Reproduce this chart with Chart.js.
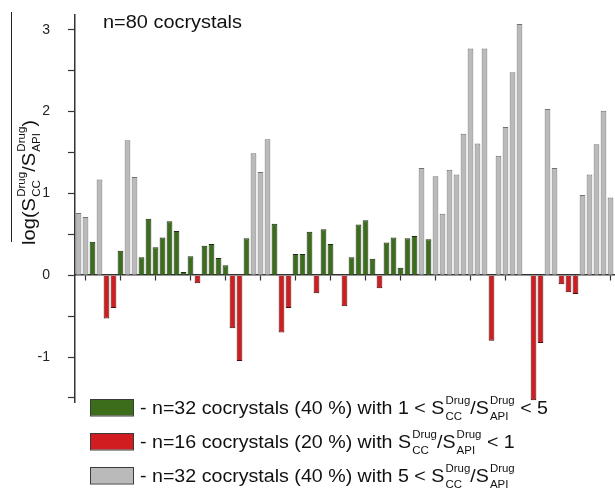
<!DOCTYPE html>
<html>
<head>
<meta charset="utf-8">
<script src="https://cdn.jsdelivr.net/npm/chart.js@4"></script>
<style>
  body { margin: 0; background: #fff; }
  canvas { display: block; background: #fff; }
</style>
</head>
<body>
<canvas id="ratioChart" width="615" height="489"></canvas>
<script>
// log(S_CC/S_API) per cocrystal, in plot order (null = empty slot)
const cocrystals = Array.from({ length: 77 }, (_, i) => String(i + 1));
const logRatio = [
  0.76, 0.71, 0.41, 1.17, -0.53, -0.40, 0.30, 1.65, 1.20, 0.22,
  0.69, 0.34, 0.46, 0.66, 0.54, 0.04, 0.23, -0.10, 0.36, 0.38,
  0.21, 0.12, -0.65, -1.05, 0.45, 1.49, 1.26, 1.66, 0.63, -0.70,
  -0.40, 0.26, 0.26, 0.53, -0.22, 0.56, 0.38, null, -0.38, 0.22,
  0.62, 0.67, 0.20, -0.16, 0.40, 0.46, 0.09, 0.45, 0.48, 1.31,
  0.44, 1.21, 0.75, 1.29, 1.23, 1.73, 2.77, 1.61, 2.77, -0.80,
  1.46, 1.81, 2.48, 3.07, null, -1.53, -0.83, 2.03, 1.31, -0.11,
  -0.21, -0.23, 0.98, 1.23, 1.60, 2.01, 0.95
];
// g = 1 < ratio < 5, r = ratio < 1, a = ratio > 5
const ratioClass = [
  'a','a','g','a','r','r','g','a','a','g',
  'g','g','g','g','g','g','g','r','g','g',
  'g','g','r','r','g','a','a','a','g','r',
  'r','g','g','g','r','g','g','-','r','g',
  'g','g','g','r','g','g','g','g','g','a',
  'g','a','a','a','a','a','a','a','a','r',
  'a','a','a','a','-','r','r','a','a','r',
  'r','r','a','a','a','a','a'
];
const yTicks = [-1, 0, 1, 2, 3];

const classes = ['g', 'r', 'a'];
const fillColors = { g: '#3c6d1b', r: '#d11c20', a: '#bababa' };
const edgeColors = { g: '#1c2e10', r: '#4a0d0d', a: '#737373' };

const legendRows = [
  ['- n=32 cocrystals (40 %) with 1 < S', { sup: 'Drug', sub: 'CC' }, '/S', { sup: 'Drug', sub: 'API' }, ' < 5'],
  ['- n=16 cocrystals (20 %) with S', { sup: 'Drug', sub: 'CC' }, '/S', { sup: 'Drug', sub: 'API' }, ' < 1'],
  ['- n=32 cocrystals (40 %) with 5 < S', { sup: 'Drug', sub: 'CC' }, '/S', { sup: 'Drug', sub: 'API' }]
];
const yTitle = ['log(S', { sup: 'Drug', sub: 'CC' }, '/S', { sup: 'Drug', sub: 'API' }, ')'];

const FONT = 'Liberation Sans, Arial, sans-serif';

function richWidth(ctx, parts, size, small) {
  let w = 0;
  parts.forEach(p => {
    if (typeof p === 'string') {
      ctx.font = size + 'px ' + FONT;
      w += ctx.measureText(p).width;
    } else {
      ctx.font = small + 'px ' + FONT;
      w += Math.max(ctx.measureText(p.sup).width, ctx.measureText(p.sub).width) + 1;
    }
  });
  return w;
}

function drawRich(ctx, parts, size, small, sx, supDy, subDy) {
  let x = 0;
  ctx.save();
  ctx.scale(sx, 1);
  parts.forEach(p => {
    if (typeof p === 'string') {
      ctx.font = size + 'px ' + FONT;
      ctx.fillText(p, x, 0);
      x += ctx.measureText(p).width;
    } else {
      ctx.font = small + 'px ' + FONT;
      ctx.fillText(p.sup, x + 1, supDy);
      ctx.fillText(p.sub, x + 1, subDy);
      x += Math.max(ctx.measureText(p.sup).width, ctx.measureText(p.sub).width) + 1;
    }
  });
  ctx.restore();
}

const textPlugin = {
  id: 'textPlugin',
  afterDraw(chart) {
    const ctx = chart.ctx;
    ctx.save();
    ctx.fillStyle = '#111';
    ctx.textBaseline = 'alphabetic';
    ctx.textAlign = 'left';

    // sample size note
    ctx.font = '18px ' + FONT;
    const nw = ctx.measureText('n=80 cocrystals').width;
    ctx.save();
    ctx.translate(103, 28);
    ctx.scale(139 / nw, 1);
    ctx.fillText('n=80 cocrystals', 0, 0);
    ctx.restore();

    // rotated y title
    const tw = richWidth(ctx, yTitle, 17.5, 10);
    ctx.save();
    ctx.translate(35, 245);
    ctx.rotate(-Math.PI / 2);
    drawRich(ctx, yTitle, 17.5, 10, 125 / tw, -10, 5);
    ctx.restore();
    ctx.strokeStyle = '#222';
    ctx.lineWidth = 1;
    ctx.beginPath();
    ctx.moveTo(11.5, 12);
    ctx.lineTo(11.5, 242);
    ctx.stroke();

    // legend
    const lw = richWidth(ctx, legendRows[0], 18, 10.5);
    const sx = 408 / lw;
    const rowTop = [399, 433, 467];
    const rowBase = [414, 448, 482];
    legendRows.forEach((row, i) => {
      const c = classes[i];
      ctx.fillStyle = fillColors[c];
      ctx.fillRect(90, rowTop[i], 43, 16.5);
      ctx.strokeStyle = '#3a3a3a';
      ctx.strokeRect(90.5, rowTop[i] + 0.5, 43, 16.5);
      ctx.fillStyle = '#111';
      ctx.save();
      ctx.translate(140, rowBase[i]);
      drawRich(ctx, row, 18, 10.5, sx, -10.5, 6);
      ctx.restore();
    });
    ctx.restore();
  }
};

new Chart(document.getElementById('ratioChart'), {
  type: 'bar',
  data: {
    labels: cocrystals,
    datasets: classes.map(c => ({
      data: logRatio.map((v, i) => (ratioClass[i] === c ? v : null)),
      backgroundColor: fillColors[c],
      borderColor: edgeColors[c],
      borderWidth: 1,
      grouped: false,
      categoryPercentage: 1,
      barPercentage: 0.82
    }))
  },
  options: {
    responsive: false,
    animation: false,
    layout: { padding: { top: 15, right: 1, bottom: 87, left: 0 } },
    plugins: { legend: { display: false }, tooltip: { enabled: false } },
    scales: {
      x: {
        position: { y: 0 },
        offset: true,
        ticks: { display: false },
        grid: {
          offset: false,
          drawOnChartArea: false,
          tickLength: 5,
          tickWidth: 1.2,
          tickColor: c => (c.index % 5 === 1 ? '#333' : 'rgba(0,0,0,0)')
        },
        border: { display: true, color: '#333', width: 1.5 }
      },
      y: {
        min: -1.55,
        max: 3.18,
        afterFit: s => {
          s.width = 75;
          s.paddingTop = 0;
          s.paddingBottom = 0;
        },
        ticks: {
          stepSize: 0.5,
          includeBounds: false,
          padding: 18,
          color: '#222',
          font: { family: FONT, size: 14 },
          callback: v => (yTicks.includes(v) ? String(v) : '')
        },
        grid: { drawOnChartArea: false, tickLength: 7, tickWidth: 1.2, tickColor: '#333' },
        border: { color: '#333', width: 1.5 }
      }
    }
  },
  plugins: [textPlugin]
});
</script>
</body>
</html>
